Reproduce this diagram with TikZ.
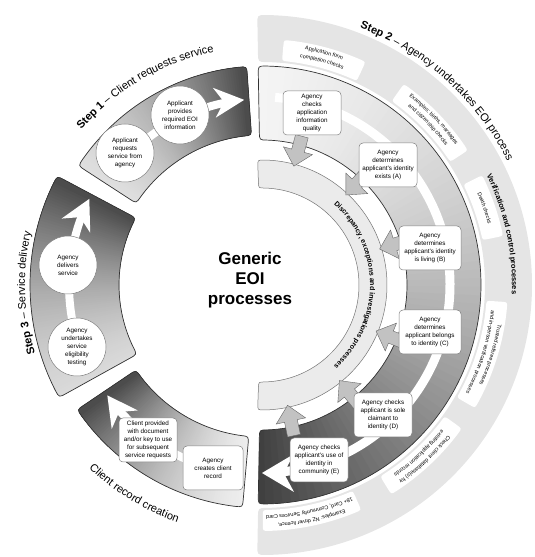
\documentclass[tikz,border=0pt]{standalone}
\usepackage{fontspec}
\setmainfont{Liberation Sans}
\usetikzlibrary{decorations.text}
\newcommand\setsec[5]{%
  \pgfmathsetmacro\sA{#1}\pgfmathsetmacro\sB{#2}%
  \pgfmathsetmacro\sRi{#3}\pgfmathsetmacro\sRo{#4}\pgfmathsetmacro\sd{#5}%
  \pgfmathsetmacro\sAo{\sA-deg(\sd/\sRo)}\pgfmathsetmacro\sBo{\sB+deg(\sd/\sRo)}%
  \pgfmathsetmacro\sAi{\sA-deg(\sd/\sRi)}\pgfmathsetmacro\sBi{\sB+deg(\sd/\sRi)}%
  \pgfmathsetmacro\sRod{\sRo-\sd}\pgfmathsetmacro\sRid{\sRi+\sd}}
\newcommand\secpath{(\sAo:\sRo) arc[start angle=\sAo, end angle=\sBo, radius=\sRo] .. controls (\sB:\sRo) .. (\sB:\sRod) -- (\sB:\sRid) .. controls (\sB:\sRi) .. (\sBi:\sRi) arc[start angle=\sBi, end angle=\sAi, radius=\sRi] .. controls (\sA:\sRi) .. (\sA:\sRid) -- (\sA:\sRod) .. controls (\sA:\sRo) .. (\sAo:\sRo) -- cycle}
\newcommand\gradfill[4]{%
 \begin{scope}
  \clip \secpath;
  \foreach \gi in {0,...,80}{%
   \pgfmathsetmacro\gf{\gi/80}%
   \pgfmathsetmacro\gth{#1+(#2-#1)*\gf}%
   \pgfmathsetmacro\gp{#3+(#4-#3)*(0.3*\gf+0.7*\gf*\gf)}%
   \fill[black!\gp] (0,0) -- (\gth-1.8:300) arc[start angle=\gth-1.8, end angle=\gth+1.8, radius=300] -- cycle;
  }
 \end{scope}}
\newcommand\whead[4]{\begin{scope}[shift={(#1:#2)}, rotate=#1-90]\fill[white] (0,0) -- (-#3,#4/2) -- (-0.68*#3,0) -- (-#3,-#4/2) -- cycle;\end{scope}}
\newcommand\garrow[1]{\begin{scope}[rotate=#1]\filldraw[garr] (154,-6.5) -- (139,-6.5) -- (139,-15) -- (123,0) -- (139,15) -- (139,6.5) -- (154,6.5) -- cycle;\end{scope}}
\newcommand\ringshape[3]{%
  \pgfmathsetmacro\rbA{#2+#3}\pgfmathsetmacro\rbB{#2-#3}%
  \setsec{\rbA}{\rbB}{225}{246}{6}%
  \fill[white] \secpath;
  \coordinate (#1) at (#2:235.5);}
\newcommand\ringline[3]{%
  \path[decorate, decoration={text along path, text align=center, text={|\eoiRing|#3}}] (#1+40:#2) arc[start angle=#1+40, end angle=#1-40, radius=#2];}
\newcommand\ringboxB[5]{\ringshape{#1}{#2}{#3}\ringline{#2}{239}{#4}\ringline{#2}{230.5}{#5}}
\newcommand\ringboxA[4]{\ringshape{#1}{#2}{#3}\ringline{#2}{234}{#4}}
\newcommand\eoiBox{\fontsize{6.3}{8}\selectfont}
\newcommand\eoiRing{\fontsize{5.4}{6}\selectfont}
\newcommand\eoiTitle{\fontsize{11}{13}\selectfont}
\newcommand\eoiBand{\fontsize{7}{8}\selectfont\bfseries}
\newcommand\eoiVer{\fontsize{7.5}{9}\selectfont\bfseries}
\begin{document}
\begin{tikzpicture}[x=1pt,y=1pt,
  box/.style={draw=black!50, line width=0.5, fill=white, rounded corners=4, minimum width=58, minimum height=44, inner sep=1, align=center, font=\eoiBox},
  circ/.style={circle, draw=black!50, line width=0.5, fill=white, minimum size=58, inner sep=0, align=center, font=\eoiBox},
  outl/.style={draw=black!80, line width=0.7},
  garr/.style={fill=black!24, draw=black!60, line width=0.4},
  wshaft/.style={white, line width=8}]
\useasboundingbox (0,0) rectangle (535,557);
\begin{scope}[shift={(262,272)}]
 % outer light ring
 \setsec{91}{-91}{223}{270}{9}
 \fill[black!10] \secpath;
 \ringboxB{r1}{75}{9.9}{Application form}{completion checks}
 \ringboxB{r2}{44}{10.8}{Examples: births, marriages}{and citizenship checks}
 \ringboxA{r3}{19}{7.5}{Death checks}
 \ringboxB{r4}{-17}{13}{Trusted referee processes}{and in-person verification processes}
 \ringboxB{r5}{-47}{11.3}{Check client database(s) for}{existing application records}
 \ringboxB{r6}{-78}{11.8}{Examples: NZ driver licence,}{18+ Card, Community Services Card}
 % titles on arcs
 \path[decorate, decoration={text along path, text align=center, text={|\eoiTitle\bfseries|Step 2 |\eoiTitle|– Agency undertakes EOI process}}] (80:275) arc[start angle=80, end angle=16, radius=275];
 \path[decorate, decoration={text along path, text align=center, text={|\eoiVer|Verification and control processes}}] (42:250) arc[start angle=42, end angle=-18, radius=250];
 \path[decorate, decoration={text along path, text align=center, text={|\eoiTitle\bfseries|Step 1 |\eoiTitle|– Client requests service}}] (151:238) arc[start angle=151, end angle=90, radius=238];
 \path[decorate, decoration={text along path, text align=center, text={|\eoiTitle\bfseries|Step 3 |\eoiTitle|– Service delivery}}] (212:237) arc[start angle=212, end angle=152, radius=237];
 \path[decorate, decoration={text along path, text align=center, text={|\eoiTitle|Client record creation}}] (218:252) arc[start angle=218, end angle=259, radius=252];
 % Step 2 block
 \setsec{91}{-91}{145}{219}{8}
 \gradfill{91}{-91}{4}{75}
 \draw[outl] \secpath;
 \draw[wshaft, line width=9] (86:188) arc[start angle=86, end angle=-84.6, radius=188];
 \whead{-90}{188}{32}{38}
 % discrepancy band
 \setsec{92}{-92}{97}{125}{6}
 \filldraw[fill=black!8, draw=black!55, line width=0.5] \secpath;
 \path[decorate, decoration={text along path, text align=center, text={|\eoiBand|Discrepancy, exceptions and investigations processes}}] (70:108) arc[start angle=70, end angle=-70, radius=108];
 \foreach \g in {75,47,17,-22,-51,-78}{\garrow{\g}}
 % Step 1 block
 \setsec{147}{94}{150}{219}{8}
 \gradfill{147}{94}{12}{70}
 \draw[outl] \secpath;
 \draw[wshaft] (143:186) arc[start angle=143, end angle=100.6, radius=186];
 \whead{95.5}{186}{30}{30}
 % Step 3 block
 \setsec{209}{152}{143}{232}{8}
 \gradfill{209}{152}{14}{70}
 \draw[outl] \secpath;
 \draw[wshaft] (205:193) arc[start angle=205, end angle=158.4, radius=193];
 \whead{153.5}{193}{30}{32}
 % Client record block
 \setsec{265}{214}{152}{223}{8}
 \gradfill{265}{214}{6}{70}
 \draw[outl] \secpath;
 \draw[wshaft] (262:190) arc[start angle=262, end angle=220.5, radius=190];
 \whead{215.5}{190}{30}{32}
\end{scope}
% Step 2 boxes
\node[box] (q) at (312,444) {Agency\\checks\\application\\information\\quality};
\node[box] (a) at (388,392) {Agency\\determines\\applicant's identity\\exists (A)};
\node[box, minimum width=62] (b) at (430,309) {Agency\\determines\\applicant's identity\\is living (B)};
\node[box, minimum width=62] (c) at (430,225) {Agency\\determines\\applicant belongs\\to identity (C)};
\node[box] (d) at (383,142) {Agency checks\\applicant is sole\\claimant to\\identity (D)};
\node[box] (e) at (319,97) {Agency checks\\applicant's use of\\identity in\\community (E)};
% Step 1 circles
\node[circ] (req) at (125,404) {Applicant\\requests\\service from\\agency};
\node[circ] (prov) at (180,442) {Applicant\\provides\\required EOI\\information};
% Step 3 circles
\node[circ] (deliv) at (68,292) {Agency\\delivers\\service};
\node[circ] (elig) at (77,210) {Agency\\undertakes\\service\\eligibility\\testing};
% Client record boxes
\node[box] (keyb) at (148,117) {Client provided\\with document\\and/or key to use\\for subsequent\\service requests};
\node[box, minimum width=60] (rec) at (213,89) {Agency\\creates client\\record};
% centre
\node[font=\fontsize{17}{20}\selectfont\bfseries, align=center] (gen) at (250,277) {Generic\\EOI\\processes};
\end{tikzpicture}
\end{document}
